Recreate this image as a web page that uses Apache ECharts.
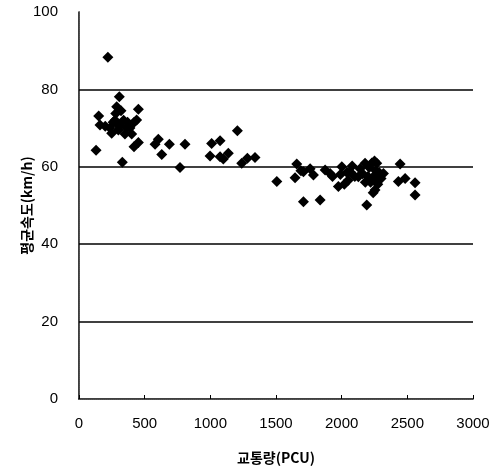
<!DOCTYPE html>
<html><head><meta charset="utf-8">
<script src="https://cdn.jsdelivr.net/npm/echarts@6/dist/echarts.min.js"></script>
<style>html,body{margin:0;padding:0;background:#fff}#c{width:502px;height:470px}</style>
</head><body><div id="c"></div>
<script>
const xTicks = [0, 500, 1000, 1500, 2000, 2500, 3000];
const yTicks = [0, 20, 40, 60, 80, 100];
const gridValues = [20, 40, 60, 80];
const xName = '교통량(PCU)';
const yName = '평균속도(km/h)';
// traffic volume (PCU)
const volume = [
  220,150,130,330,307,287,280,452,160,200,236,260,274,300,312,340,363,388,401,420,439,350,249,290,452,419,320,370,
  604,579,688,630,807,769,1010,1074,998,1074,1137,1099,1206,1239,1282,1340,1506,
  1645,1658,1690,1709,1709,1760,1785,1836,1874,1912,1930,1975,1990,2001,2020,2040,2064,2080,2100,2127,2140,2160,2178,2191,2200,2210,2220,2230,2241,2254,2260,2267,2275,2285,2300,2318,2240,2445,2432,2483,2559,2559,2050,2180,2250,2270
];
// average speed (km/h)
const speed = [
  88.3,73.1,64.3,61.2,78.1,75.5,73.8,74.9,70.8,70.5,70,71.5,72,69.5,70.8,72,70,70,68.5,71.5,72.1,68.5,68.7,71,66.3,65.2,74.5,71.5,
  67.1,65.8,65.8,63.2,65.8,59.8,66,66.7,62.8,62.6,63.5,62,69.3,60.9,62.2,62.4,56.2,
  57.2,60.7,59,58.7,51,59.5,57.9,51.4,59.2,58.3,57.5,54.9,58,60,55.5,58.5,58.7,60.2,57.5,57.4,59.5,58.2,60.9,50.1,57.5,59.8,56,61,57.4,54,59,60.9,55.5,58.5,57,58.3,53.3,60.7,56.2,57,55.9,52.7,56.5,56,61.5,56.5
];
const pts = volume.map((v, i) => [v, speed[i]]);
const chart = echarts.init(document.getElementById('c'));
const lbl = {color:'#000', fontFamily:'Liberation Sans, Arial, sans-serif', fontSize:15};
const nameStyle = {color:'#000', fontFamily:'Noto Sans CJK KR', fontWeight:'bold', fontSize:14};
chart.setOption({
  animation:false,
  grid:{left:79, right:29, top:12, bottom:71},
  xAxis:[{
    type:'value', min:xTicks[0], max:xTicks[xTicks.length-1], interval:500,
    name:xName, nameLocation:'middle', nameGap:52, nameTextStyle:nameStyle,
    axisLine:{lineStyle:{color:'#000', width:1.5}},
    axisTick:{inside:true, length:4, lineStyle:{color:'#000'}},
    axisLabel:Object.assign({margin:17, formatter: v => String(v)}, lbl),
    splitLine:{show:false}
  },{
    type:'value', position:'top', min:0, max:3000,
    axisLine:{show:true, lineStyle:{color:'#555', type:'dotted', width:1}},
    axisTick:{show:false}, axisLabel:{show:false}, splitLine:{show:false}
  }],
  yAxis:[{
    type:'value', min:yTicks[0], max:yTicks[yTicks.length-1], interval:20,
    name:yName, nameLocation:'middle', nameGap:45, nameMoveOverlap:false, nameTextStyle:nameStyle,
    axisLine:{show:true, lineStyle:{color:'#000', width:1.5}},
    axisTick:{show:false},
    axisLabel:Object.assign({margin:21}, lbl),
    splitLine:{show:false}
  },{
    type:'value', position:'right', min:0, max:100,
    axisLine:{show:true, lineStyle:{color:'#555', type:'dotted', width:1}},
    axisTick:{show:false}, axisLabel:{show:false}, splitLine:{show:false}
  }],
  series:[{
    type:'scatter', data:pts, symbol:'diamond', symbolSize:11,
    itemStyle:{color:'#000', opacity:1},
    markLine:{silent:true, symbol:'none', label:{show:false},
      lineStyle:{color:'#000', type:'solid', width:1.5},
      data:gridValues.map(v => ({yAxis:v}))}
  }]
});
</script></body></html>
